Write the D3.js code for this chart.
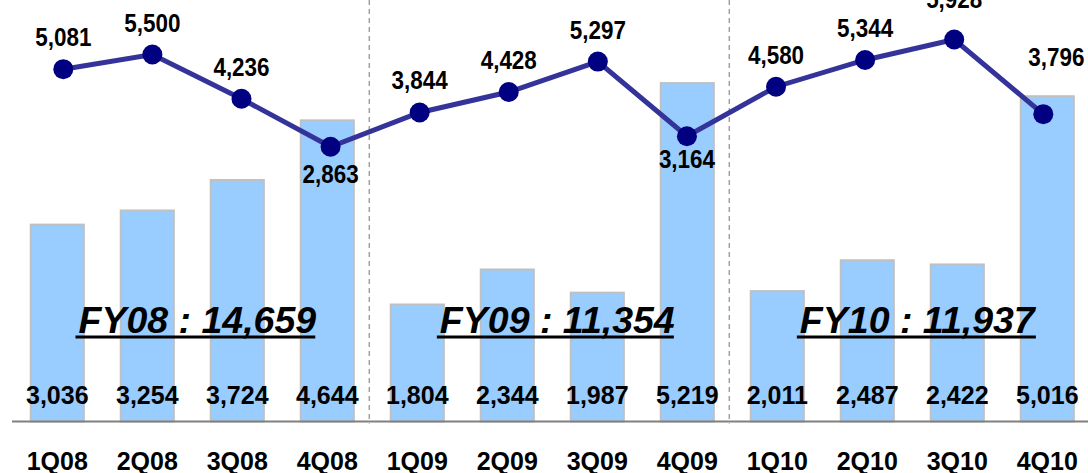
<!DOCTYPE html>
<html>
<head>
<meta charset="utf-8">
<script src="https://cdn.jsdelivr.net/npm/d3@7"></script>
<style>
  body { margin: 0; background: #fff; }
  text { font-family: "Liberation Sans", Arial, sans-serif; font-weight: bold; fill: #000; }
</style>
</head>
<body>
<svg id="chart" width="1088" height="473"></svg>
<script>
// Data
const quarters = ["1Q08", "2Q08", "3Q08", "4Q08", "1Q09", "2Q09", "3Q09", "4Q09", "1Q10", "2Q10", "3Q10", "4Q10"];
const barValues = [3036, 3254, 3724, 4644, 1804, 2344, 1987, 5219, 2011, 2487, 2422, 5016];
const lineValues = [5081, 5500, 4236, 2863, 3844, 4428, 5297, 3164, 4580, 5344, 5928, 3796];
const fyLabels = ["FY08 : 14,659", "FY09 : 11,354", "FY10 : 11,937"];

const svg = d3.select("#chart");
const width = +svg.attr("width");
const baseY = 421.5;

// scales
const x = d3.scaleBand()
  .domain(quarters)
  .range([12.3, 1092.3])
  .paddingInner(0.41)
  .paddingOuter(0.205);

const xLine = d3.scalePoint()
  .domain(quarters)
  .range([63.3, 1043.3]);

const yBar = d3.scaleLinear().domain([0, 6500]).range([baseY, 0]);
const yLine = d3.scaleLinear().domain([0, 7000]).range([247, 2]);

const fmt = d3.format(",");

// bars
svg.append("g").selectAll("rect")
  .data(barValues)
  .join("rect")
  .attr("x", (d, i) => x(quarters[i]))
  .attr("y", d => yBar(d))
  .attr("width", x.bandwidth())
  .attr("height", d => baseY - yBar(d))
  .attr("fill", "#99ccff")
  .attr("stroke", "#c0c0c0")
  .attr("stroke-width", 2);

// fiscal year separators
[4, 8].forEach(i => {
  const sx = (x(quarters[i - 1]) + x.bandwidth() + x(quarters[i])) / 2 - 3;
  svg.append("line")
    .attr("x1", sx).attr("x2", sx)
    .attr("y1", 0).attr("y2", baseY + 2)
    .attr("stroke", "#a0a0a0")
    .attr("stroke-width", 1.5)
    .attr("stroke-dasharray", "5,4");
});

// baseline
svg.append("line")
  .attr("x1", 12).attr("x2", width)
  .attr("y1", baseY).attr("y2", baseY)
  .attr("stroke", "#808080")
  .attr("stroke-width", 2);

// bar value labels
svg.append("g").selectAll("text")
  .data(barValues)
  .join("text")
  .attr("x", (d, i) => x(quarters[i]) + x.bandwidth() / 2)
  .attr("y", 403.5)
  .attr("text-anchor", "middle")
  .attr("font-size", "25px")
  .text(d => fmt(d));

// quarter labels
svg.append("g").selectAll("text")
  .data(quarters)
  .join("text")
  .attr("x", d => x(d) + x.bandwidth() / 2)
  .attr("y", 469.5)
  .attr("text-anchor", "middle")
  .attr("font-size", "25px")
  .text(d => d);

// FY totals, underlined
fyLabels.forEach((label, k) => {
  const a = quarters[k * 4 + 1], b = quarters[k * 4 + 2];
  const cx = (x(a) + x(b) + x.bandwidth()) / 2 + 5;
  const t = svg.append("text")
    .attr("x", cx)
    .attr("y", 332.5)
    .attr("text-anchor", "middle")
    .attr("font-size", "37.5px")
    .attr("font-style", "italic")
    .text(label);
  const bb = t.node().getBBox();
  svg.append("line")
    .attr("x1", bb.x - 3).attr("x2", bb.x + bb.width - 1)
    .attr("y1", 337).attr("y2", 337)
    .attr("stroke", "#000")
    .attr("stroke-width", 3);
});

// line series
const line = d3.line()
  .x((d, i) => xLine(quarters[i]))
  .y(d => yLine(d));

svg.append("path")
  .datum(lineValues)
  .attr("d", line)
  .attr("fill", "none")
  .attr("stroke", "#333399")
  .attr("stroke-width", 5);

svg.append("g").selectAll("circle")
  .data(lineValues)
  .join("circle")
  .attr("cx", (d, i) => xLine(quarters[i]))
  .attr("cy", d => yLine(d))
  .attr("r", 10)
  .attr("fill", "#000080");

// line labels: mostly above the dot, a few moved to stay clear of the line
const nudge = { 3: [0, 36], 7: [0, 32], 10: [0, -32], 11: [13, -48] };
svg.append("g").selectAll("text")
  .data(lineValues)
  .join("text")
  .attr("transform", (d, i) => {
    const n = nudge[i] || [0, -23];
    return "translate(" + (xLine(quarters[i]) + n[0]) + "," + (yLine(d) + n[1]) + ") scale(0.88,1)";
  })
  .attr("text-anchor", "middle")
  .attr("font-size", "25.5px")
  .text(d => fmt(d));
</script>
</body>
</html>
